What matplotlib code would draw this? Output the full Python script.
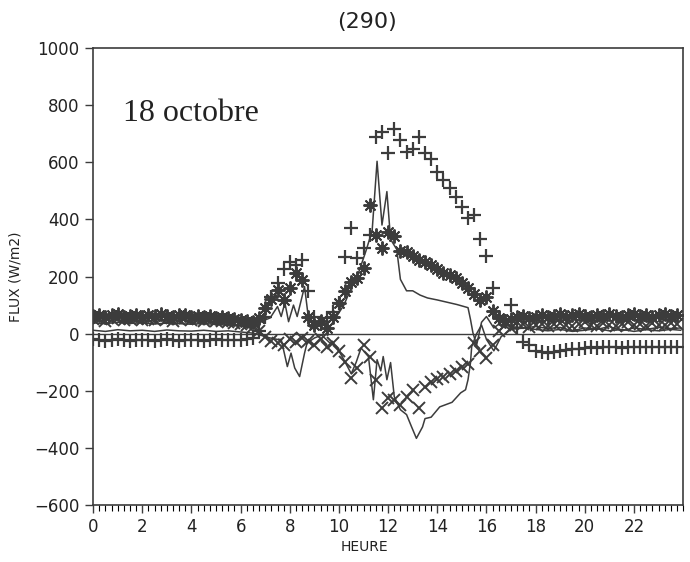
import numpy as np
import matplotlib.pyplot as plt
from matplotlib.ticker import MultipleLocator

# heures des mesures (pas de 15 min)
heures = np.arange(0, 24, 0.25)

# flux "+" (W/m2)
flux_plus = [-20, -22, -24, -22, -20, -23, -25, -22, -21, -23, -24, -22,
             -20, -22, -24, -23, -21, -22, -24, -22, -20, -22, -23, -21,
             -22, -20, -15, 10, 60, 130, 177, 225, 250, 240, 257, 150,
             60, 35, 55, 75, 107, 268, 369, 264, 300, 345, 688, 706,
             632, 716, 678, 636, 646, 688, 632, 611, 565, 537, 509, 478,
             443, 404, 415, 330, 271, 159, 60, 45, 100, 20, -30, -40,
             -60, -64, -66, -63, -60, -58, -55, -52, -50, -48, -50, -47,
             -46, -48, -50, -47, -45, -47, -48, -46, -45, -47, -46, -47]

# flux "*"
flux_etoile = [62, 66, 58, 64, 70, 60, 63, 67, 59, 65, 61, 68,
               62, 57, 64, 66, 60, 63, 58, 62, 56, 60, 54, 50,
               47, 44, 40, 55, 91, 120, 154, 119, 160, 213, 189, 60,
               30, 45, 20, 60, 107, 150, 180, 195, 230, 450, 345, 300,
               357, 340, 290, 285, 270, 259, 250, 240, 225, 214, 205, 196,
               179, 161, 140, 119, 130, 80, 55, 45, 50, 58, 62, 55,
               60, 66, 58, 63, 68, 60, 65, 70, 62, 58, 66, 61,
               68, 63, 57, 65, 70, 62, 66, 60, 64, 68, 61, 65]

# flux "x"
flux_croix = [50, 54, 46, 52, 56, 48, 51, 55, 47, 53, 49, 56,
              50, 45, 52, 54, 48, 51, 46, 50, 44, 46, 42, 38,
              35, 30, 25, 10, -10, -25, -32, -40, -20, -30, -15, -25,
              -38, -20, -45, -32, -60, -98, -154, -120, -38, -80, -161, -260,
              -225, -231, -249, -221, -196, -260, -185, -170, -160, -150, -140, -130,
              -118, -105, -32, -60, -84, -40, 10, 30, 20, 40, 35, 25,
              30, 35, 28, 33, 38, 30, 26, 34, 40, 30, 28, 36,
              32, 27, 35, 40, 30, 34, 28, 37, 31, 29, 36, 33]

# courbe continue positive
ligne_a_h = [0, 0.5, 1, 1.5, 2, 2.5, 3, 3.5, 4, 4.5, 5, 5.5, 6, 6.5, 6.9, 7.2,
             7.5, 7.65, 7.8, 7.95, 8.15, 8.3, 8.6, 8.8, 9.0, 9.3, 9.6, 9.9,
             10.2, 10.5, 10.8, 11.1, 11.35, 11.55, 11.75, 11.95, 12.1, 12.35,
             12.5, 12.75, 13.0, 13.3, 13.6, 14.0, 14.4, 14.8, 15.25, 15.35,
             15.45, 15.6, 15.8, 16.0, 16.3, 16.6, 17, 17.5, 18, 18.5, 19, 19.5,
             20, 20.5, 21, 21.5, 22, 22.5, 23, 23.5, 23.9]
ligne_a_v = [38, 35, 40, 36, 38, 34, 37, 35, 33, 36, 32, 30, 28, 20, 45, 55,
             95, 60, 108, 42, 100, 60, 165, 25, 15, 35, 20, 60,
             100, 160, 214, 290, 360, 603, 380, 497, 330, 295,
             190, 150, 150, 135, 125, 118, 110, 102, 91, 50,
             3, -40, 40, 60, 20, 40, 25, 20, 25, 18, 22, 10,
             20, 15, 25, 10, 20, 15, 22, 18, 20]

# courbe continue negative
ligne_b_h = [0, 0.5, 1, 1.5, 2, 2.5, 3, 3.5, 4, 4.5, 5, 5.5, 6, 6.5, 6.8, 7.2,
             7.5, 7.65, 7.9, 8.05, 8.2, 8.4, 8.6, 8.7, 9.0, 9.3, 9.6, 9.9,
             10.2, 10.5, 10.7, 10.9, 11.2, 11.4, 11.55, 11.7, 11.8, 11.95,
             12.1, 12.25, 12.5, 12.75, 12.95, 13.15, 13.4, 13.5, 13.75, 14.1,
             14.6, 14.95, 15.15, 15.25, 15.35, 15.4, 15.6, 15.8, 16.0, 16.3,
             16.6, 17, 17.5, 18, 18.5, 19, 19.5, 20, 20.5, 21, 21.5, 22, 22.5,
             23, 23.5, 23.9]
ligne_b_v = [12, 8, 14, 10, 12, 8, 13, 10, 9, 12, 8, 10, 6, 2, -5, -15,
             -20, -20, -115, -68, -120, -150, -68, -33, -15, -5, -30, -45,
             -91, -140, -100, -50, -80, -231, -91, -130, -80, -161,
             -101, -220, -266, -283, -325, -366, -326, -297, -292, -256,
             -240, -207, -196, -161, -102, -45, 0, 30, -20, -60,
             -10, 15, 20, 15, 10, 15, 8, 12, 18, 10, 15, 8, 14,
             10, 15, 12]

encre = '#3c3c3c'

fig = plt.figure(figsize=(6.9, 5.62), dpi=100)
ax = fig.add_axes([0.135, 0.101, 0.855, 0.814])

ax.axhline(0, color=encre, lw=1.0)
ax.plot(ligne_a_h, ligne_a_v, color=encre, lw=1.1)
ax.plot(ligne_b_h, ligne_b_v, color=encre, lw=1.1)
ax.plot(heures, flux_plus, ls='none', marker='+', ms=10, mew=1.6, color=encre)
ax.plot(heures, flux_etoile, ls='none', marker=(8, 2, 0), ms=10, mew=1.4, color=encre)
ax.plot(heures, flux_croix, ls='none', marker='x', ms=8, mew=1.4, color=encre)

ax.set_xlim(0, 24)
ax.set_ylim(-600, 1000)
ax.set_xticks(range(0, 24, 2))
ax.xaxis.set_minor_locator(MultipleLocator(0.25))
ax.set_yticks(range(-600, 1001, 200))
ax.tick_params(axis='both', labelsize=12, color=encre, labelcolor='#222222')
ax.tick_params(axis='x', which='major', length=6, width=1.0)
ax.tick_params(axis='x', which='minor', length=4, width=0.8)
ax.tick_params(axis='y', length=6, width=1.0, pad=4)
for s in ax.spines.values():
    s.set_color(encre)
    s.set_linewidth(1.2)

ax.set_xlabel('HEURE', fontsize=10, color='#222222', labelpad=3)
ax.xaxis.set_label_coords(0.46, -0.075)
ax.set_ylabel('FLUX (W/m2)', fontsize=10, color='#222222', labelpad=8)
fig.text(0.532, 0.96, '(290)', fontsize=16, color='#222222', ha='center', va='center')
ax.text(1.2, 745, '18 octobre', fontsize=23, family='Liberation Serif', color='#222222')

fig.savefig('out.png', dpi=100)
